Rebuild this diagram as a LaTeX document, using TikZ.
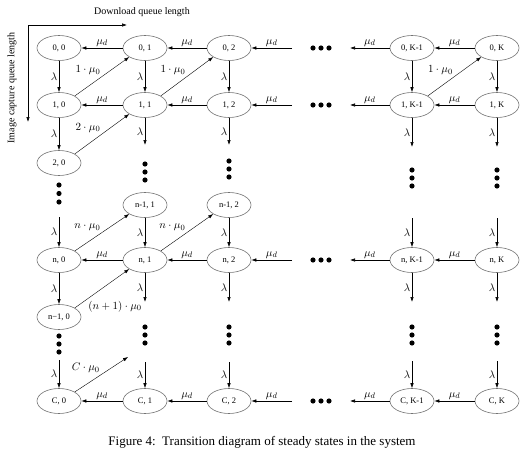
\documentclass[tikz,border=0pt]{standalone}
\usepackage{fontspec}
\setmainfont{Liberation Serif}
\usetikzlibrary{shapes.geometric,arrows.meta}
\begin{document}
\begin{tikzpicture}[x=1pt,y=-1pt,>={Latex[length=5pt,width=3.5pt]},line width=0.6pt]
	\tikzstyle{state} = [draw=black!55, ellipse, minimum width=44pt, minimum height=25pt, inner sep=0pt, font=\fontsize{8.5}{10}\selectfont]
	\tikzstyle{lbl} = [font=\fontsize{11}{13}\selectfont, inner sep=1.5pt]
	\tikzstyle{txt} = [font=\fontsize{10}{12}\selectfont]
	\useasboundingbox (0,0) rectangle (531,455);
	% axes
	\coordinate (O) at (28,25);
	\coordinate (X) at (127,25);
	\coordinate (Y) at (28,122);
	\draw[->] (O) -- (X);
	\draw[->] (O) -- (Y);
	\node[txt] (xlab) at (142,12) {Download queue length};
	\node[txt, rotate=90] (ylab) at (12,88) {Image capture queue length};
	% states
	\node[state] (s00) at (59,48) {0, 0};
	\node[state] (s01) at (145,48) {0, 1};
	\node[state] (s02) at (229,48) {0, 2};
	\node[state] (s0K1) at (412,48) {0, K-1};
	\node[state] (s0K) at (497,48) {0, K};
	\node[state] (s10) at (59,105) {1, 0};
	\node[state] (s11) at (145,105) {1, 1};
	\node[state] (s12) at (229,105) {1, 2};
	\node[state] (s1K1) at (412,105) {1, K-1};
	\node[state] (s1K) at (497,105) {1, K};
	\node[state] (s20) at (59,163) {2, 0};
	\node[state] (sn11) at (145,205) {n-1, 1};
	\node[state] (sn12) at (229,205) {n-1, 2};
	\node[state] (sn0) at (59,260) {n, 0};
	\node[state] (sn1) at (145,260) {n, 1};
	\node[state] (sn2) at (229,260) {n, 2};
	\node[state] (snK1) at (412,260) {n, K-1};
	\node[state] (snK) at (497,260) {n, K};
	\node[state] (sm0) at (59,317) {n−1, 0};
	\node[state] (sC0) at (59,401) {C, 0};
	\node[state] (sC1) at (145,401) {C, 1};
	\node[state] (sC2) at (229,401) {C, 2};
	\node[state] (sCK1) at (412,401) {C, K-1};
	\node[state] (sCK) at (497,401) {C, K};
	% free ends
	\coordinate (h0a) at (292,48);  \coordinate (h0b) at (350,48);
	\coordinate (h1a) at (292,105); \coordinate (h1b) at (350,105);
	\coordinate (hna) at (292,260); \coordinate (hnb) at (350,260);
	\coordinate (hCa) at (292,401); \coordinate (hCb) at (350,401);
	\coordinate (e11) at (145,145); \coordinate (e12) at (229,145);
	\coordinate (e1K1) at (412,147); \coordinate (e1K) at (497,147);
	\coordinate (t0) at (59,217);   \coordinate (tK1) at (412,218); \coordinate (tK) at (497,218);
	\coordinate (en1) at (145,302); \coordinate (en2) at (229,302);
	\coordinate (enK1) at (412,302); \coordinate (enK) at (497,302);
	\coordinate (u0) at (59,360);   \coordinate (u1) at (145,362); \coordinate (u2) at (229,362);
	\coordinate (uK1) at (412,361); \coordinate (uK) at (497,361);
	\coordinate (dC) at (128,357);
	% mu_d transitions
	\draw[->] (s01) -- (s00) node[lbl, midway, above] {$\mu_d$};
	\draw[->] (s02) -- (s01) node[lbl, midway, above] {$\mu_d$};
	\draw[->] (h0a) -- (s02) node[lbl, midway, above] {$\mu_d$};
	\draw[->] (s0K1) -- (h0b) node[lbl, midway, above] {$\mu_d$};
	\draw[->] (s0K) -- (s0K1) node[lbl, midway, above] {$\mu_d$};
	\draw[->] (s11) -- (s10) node[lbl, midway, above] {$\mu_d$};
	\draw[->] (s12) -- (s11) node[lbl, midway, above] {$\mu_d$};
	\draw[->] (h1a) -- (s12) node[lbl, midway, above] {$\mu_d$};
	\draw[->] (s1K1) -- (h1b) node[lbl, midway, above] {$\mu_d$};
	\draw[->] (s1K) -- (s1K1) node[lbl, midway, above] {$\mu_d$};
	\draw[->] (sn1) -- (sn0) node[lbl, midway, above] {$\mu_d$};
	\draw[->] (sn2) -- (sn1) node[lbl, midway, above] {$\mu_d$};
	\draw[->] (hna) -- (sn2) node[lbl, midway, above] {$\mu_d$};
	\draw[->] (snK1) -- (hnb) node[lbl, midway, above] {$\mu_d$};
	\draw[->] (snK) -- (snK1) node[lbl, midway, above] {$\mu_d$};
	\draw[->] (sC1) -- (sC0) node[lbl, midway, above] {$\mu_d$};
	\draw[->] (sC2) -- (sC1) node[lbl, midway, above] {$\mu_d$};
	\draw[->] (hCa) -- (sC2) node[lbl, midway, above] {$\mu_d$};
	\draw[->] (sCK1) -- (hCb) node[lbl, midway, above] {$\mu_d$};
	\draw[->] (sCK) -- (sCK1) node[lbl, midway, above] {$\mu_d$};
	% lambda transitions
	\draw[->] (s00) -- (s10) node[lbl, midway, left] {$\lambda$};
	\draw[->] (s01) -- (s11) node[lbl, midway, left] {$\lambda$};
	\draw[->] (s02) -- (s12) node[lbl, midway, left] {$\lambda$};
	\draw[->] (s0K1) -- (s1K1) node[lbl, midway, left] {$\lambda$};
	\draw[->] (s0K) -- (s1K) node[lbl, midway, left] {$\lambda$};
	\draw[->] (s10) -- (s20) node[lbl, midway, left] {$\lambda$};
	\draw[->] (s11) -- (e11) node[lbl, midway, left] {$\lambda$};
	\draw[->] (s12) -- (e12) node[lbl, midway, left] {$\lambda$};
	\draw[->] (s1K1) -- (e1K1) node[lbl, midway, left] {$\lambda$};
	\draw[->] (s1K) -- (e1K) node[lbl, midway, left] {$\lambda$};
	\draw[->] (t0) -- (sn0) node[lbl, midway, left] {$\lambda$};
	\draw[->] (sn11) -- (sn1) node[lbl, midway, left] {$\lambda$};
	\draw[->] (sn12) -- (sn2) node[lbl, midway, left] {$\lambda$};
	\draw[->] (tK1) -- (snK1) node[lbl, midway, left] {$\lambda$};
	\draw[->] (tK) -- (snK) node[lbl, midway, left] {$\lambda$};
	\draw[->] (sn0) -- (sm0) node[lbl, midway, left] {$\lambda$};
	\draw[->] (sn1) -- (en1) node[lbl, midway, left] {$\lambda$};
	\draw[->] (sn2) -- (en2) node[lbl, midway, left] {$\lambda$};
	\draw[->] (snK1) -- (enK1) node[lbl, midway, left] {$\lambda$};
	\draw[->] (snK) -- (enK) node[lbl, midway, left] {$\lambda$};
	\draw[->] (u0) -- (sC0) node[lbl, midway, left] {$\lambda$};
	\draw[->] (u1) -- (sC1) node[lbl, midway, left] {$\lambda$};
	\draw[->] (u2) -- (sC2) node[lbl, midway, left] {$\lambda$};
	\draw[->] (uK1) -- (sCK1) node[lbl, midway, left] {$\lambda$};
	\draw[->] (uK) -- (sCK) node[lbl, midway, left] {$\lambda$};
	% mu_0 transitions
	\draw[->, line width=0.4pt] (s10.north east) -- (s01.south west) node[lbl, midway, above left] {$1\cdot\mu_0$};
	\draw[->, line width=0.4pt] (s11.north east) -- (s02.south west) node[lbl, midway, above left] {$1\cdot\mu_0$};
	\draw[->, line width=0.4pt] (s1K1.north east) -- (s0K.south west) node[lbl, midway, above left] {$1\cdot\mu_0$};
	\draw[->, line width=0.4pt] (s20.north east) -- (s11.south west) node[lbl, midway, above left] {$2\cdot\mu_0$};
	\draw[->, line width=0.4pt] (sn0.north east) -- (sn11.south west) node[lbl, midway, above left] {$n\cdot\mu_0$};
	\draw[->, line width=0.4pt] (sn1.north east) -- (sn12.south west) node[lbl, midway, above left] {$n\cdot\mu_0$};
	\draw[->, line width=0.4pt] (sm0.north east) -- (sn1.south west) node[lbl, pos=0.22, below right] {$(n+1)\cdot\mu_0$};
	\draw[->, line width=0.4pt] (sC0.north east) -- (dC) node[lbl, midway, above left] {$C\cdot\mu_0$};
	% dots
	\foreach \x/\y in {59/185, 59/193.5, 59/202, 59/336, 59/344, 59/352,
		145/164, 145/172, 145/180, 229/161, 229/169, 229/177,
		412/170, 412/178, 412/186, 497/170, 497/178, 497/186,
		145/327, 145/335, 145/343, 229/327, 229/335, 229/343,
		412/327, 412/335, 412/343, 497/327, 497/335, 497/343}
		\fill (\x,\y) circle (2.6);
	\foreach \y in {48,105,260,401}
		\foreach \x in {313,321,329}
			\fill (\x,\y) circle (2.6);
	% caption
	\node[font=\fontsize{13}{15}\selectfont] (cap) at (262,442) {Figure 4:\, Transition diagram of steady states in the system};
\end{tikzpicture}
\end{document}
